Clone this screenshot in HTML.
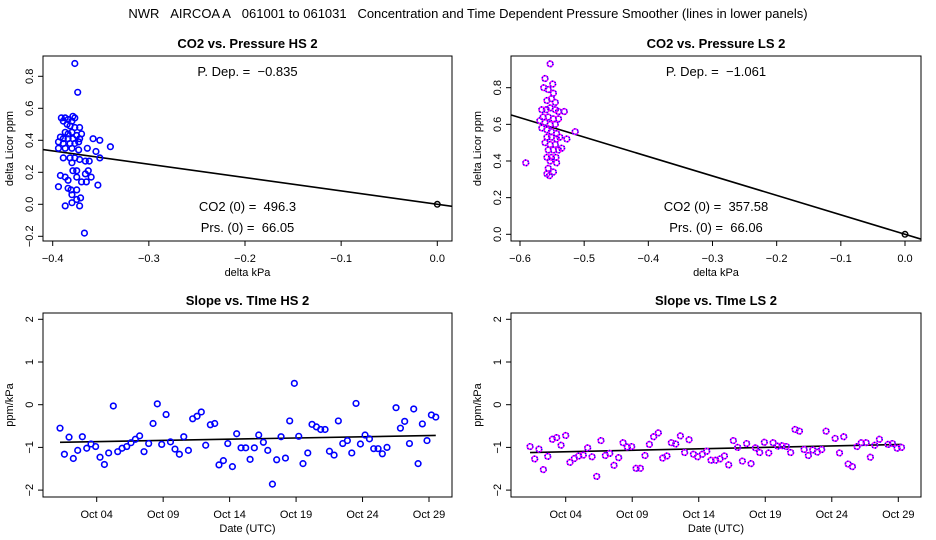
<!DOCTYPE html>
<html><head><meta charset="utf-8"><style>
body{margin:0;background:#fff}
svg{display:block;font-family:"Liberation Sans",sans-serif}
</style></head><body>
<svg id="c" width="936" height="540" viewBox="0 0 936 540"></svg>
<script>
// ---- data ----
const hsPrsX=[-0.377,-0.374,-0.379,-0.377,-0.391,-0.387,-0.384,-0.380,-0.389,-0.385,-0.382,-0.377,-0.372,-0.387,-0.384,-0.380,-0.375,-0.392,-0.389,-0.384,-0.379,-0.372,-0.370,-0.394,-0.389,-0.382,-0.377,-0.373,-0.394,-0.387,-0.380,-0.373,-0.364,-0.358,-0.351,-0.340,-0.355,-0.351,-0.389,-0.382,-0.377,-0.372,-0.366,-0.362,-0.380,-0.379,-0.375,-0.363,-0.392,-0.387,-0.384,-0.375,-0.366,-0.360,-0.370,-0.365,-0.394,-0.384,-0.381,-0.375,-0.353,-0.380,-0.371,-0.375,-0.380,-0.387,-0.372,-0.367];
const hsCo2Y=[0.88,0.70,0.55,0.54,0.54,0.54,0.53,0.52,0.52,0.50,0.49,0.48,0.48,0.45,0.44,0.45,0.43,0.42,0.41,0.41,0.41,0.41,0.44,0.39,0.38,0.38,0.38,0.39,0.35,0.35,0.35,0.34,0.35,0.41,0.40,0.36,0.33,0.29,0.29,0.29,0.29,0.28,0.27,0.27,0.26,0.21,0.21,0.21,0.18,0.17,0.15,0.17,0.19,0.17,0.14,0.14,0.11,0.10,0.09,0.09,0.12,0.06,0.04,0.03,0.01,-0.01,-0.01,-0.18];
const hsSlope=-0.835;
const lsPrsX=[-0.553,-0.561,-0.549,-0.563,-0.556,-0.548,-0.551,-0.558,-0.545,-0.566,-0.559,-0.553,-0.545,-0.531,-0.540,-0.564,-0.556,-0.548,-0.540,-0.569,-0.561,-0.553,-0.545,-0.566,-0.558,-0.551,-0.543,-0.514,-0.558,-0.551,-0.543,-0.561,-0.553,-0.545,-0.527,-0.538,-0.556,-0.548,-0.540,-0.558,-0.551,-0.535,-0.553,-0.544,-0.543,-0.591,-0.556,-0.558,-0.548,-0.554];
const lsCo2Y=[0.93,0.85,0.82,0.80,0.79,0.77,0.74,0.73,0.72,0.68,0.68,0.69,0.68,0.67,0.67,0.64,0.64,0.63,0.63,0.62,0.61,0.60,0.60,0.58,0.57,0.56,0.55,0.56,0.53,0.53,0.52,0.50,0.49,0.49,0.52,0.53,0.46,0.46,0.46,0.42,0.42,0.47,0.40,0.42,0.39,0.39,0.36,0.33,0.34,0.32];
const lsSlope=-1.061;
const hsDays=[1.24,1.57,1.92,2.24,2.57,2.92,3.25,3.57,3.92,4.25,4.58,4.90,5.25,5.58,5.91,6.26,6.58,6.91,7.23,7.56,7.91,8.24,8.56,8.89,9.22,9.55,9.89,10.22,10.55,10.90,11.22,11.55,11.87,12.20,12.55,12.88,13.20,13.53,13.86,14.21,14.53,14.86,15.21,15.54,15.86,16.19,16.54,16.87,17.22,17.54,17.87,18.20,18.52,18.87,19.20,19.52,19.88,20.20,20.53,20.85,21.18,21.51,21.86,22.18,22.51,22.86,23.19,23.51,23.84,24.19,24.52,24.84,25.17,25.49,25.84,26.52,26.85,27.17,27.53,27.85,28.18,28.50,28.85,29.18,29.51];
const hsSlopes=[-0.55,-1.16,-0.76,-1.26,-1.07,-0.75,-1.02,-0.92,-0.98,-1.23,-1.40,-1.13,-0.03,-1.10,-1.02,-0.98,-0.89,-0.81,-0.73,-1.10,-0.91,-0.44,0.02,-0.93,-0.23,-0.87,-1.04,-1.16,-0.75,-1.07,-0.33,-0.27,-0.17,-0.95,-0.47,-0.44,-1.41,-1.31,-0.91,-1.45,-0.68,-1.01,-1.01,-1.28,-1.01,-0.71,-0.88,-1.07,-1.86,-1.29,-0.75,-1.25,-0.38,0.50,-0.74,-1.38,-1.13,-0.46,-0.52,-0.58,-0.58,-1.09,-1.18,-0.38,-0.91,-0.84,-1.13,0.03,-0.92,-0.71,-0.80,-1.03,-1.03,-1.15,-1.00,-0.07,-0.55,-0.39,-0.91,-0.10,-1.38,-0.45,-0.84,-0.24,-0.29];
const hsTrendDays=[1.24,29.51];
const hsTrendVals=[-0.88,-0.72];
const lsDays=[1.32,1.67,1.99,2.32,2.65,3.00,3.32,3.65,4.00,4.32,4.65,4.98,5.32,5.65,5.98,6.33,6.65,6.98,7.31,7.63,7.98,8.31,8.63,8.96,9.29,9.61,9.96,10.29,10.61,10.96,11.29,11.61,11.94,12.27,12.62,12.94,13.27,13.60,13.92,14.27,14.60,14.92,15.27,15.60,15.93,16.25,16.60,16.93,17.28,17.60,17.93,18.26,18.58,18.93,19.26,19.59,19.94,20.26,20.59,20.91,21.24,21.57,21.92,22.24,22.57,22.92,23.24,23.57,24.25,24.58,24.90,25.23,25.55,25.90,26.22,26.58,26.90,27.23,27.58,28.23,28.56,28.91,29.24];
const lsSlopes=[-0.98,-1.27,-1.04,-1.52,-1.21,-0.81,-0.77,-0.95,-0.72,-1.35,-1.26,-1.20,-1.18,-1.01,-1.22,-1.68,-0.84,-1.19,-1.14,-1.42,-1.24,-0.89,-0.99,-0.98,-1.49,-1.49,-1.19,-0.93,-0.75,-0.66,-1.25,-1.20,-0.89,-0.92,-0.73,-1.12,-0.82,-1.16,-1.22,-1.16,-1.09,-1.30,-1.30,-1.27,-1.20,-1.41,-0.84,-1.00,-1.32,-0.91,-1.38,-1.01,-1.12,-0.88,-1.13,-0.89,-0.97,-0.96,-0.98,-1.12,-0.58,-0.62,-1.05,-1.19,-1.06,-1.11,-1.05,-0.62,-0.79,-1.13,-0.75,-1.39,-1.45,-0.98,-0.89,-0.89,-1.23,-0.95,-0.81,-0.93,-0.91,-1.02,-1.00];
const lsTrendDays=[1.32,29.24];
const lsTrendVals=[-1.12,-0.93];
const topXTicksHS=[-0.4,-0.3,-0.2,-0.1,0.0];
const topYTicksHS=[-0.2,0.0,0.2,0.4,0.6,0.8];
const topXTicksLS=[-0.6,-0.5,-0.4,-0.3,-0.2,-0.1,0.0];
const topYTicksLS=[0.0,0.2,0.4,0.6,0.8];
const slopeYTicks=[-2,-1,0,1,2];
const dateTickDays=[4,9,14,19,24,29];
const dateTickLabels=["Oct 04","Oct 09","Oct 14","Oct 19","Oct 24","Oct 29"];

const NS="http://www.w3.org/2000/svg";
const svg=document.getElementById('c');
function mk(tag,attrs,parent,text){const e=document.createElementNS(NS,tag);for(const k in attrs)e.setAttribute(k,attrs[k]);if(text!==undefined)e.textContent=text;(parent||svg).appendChild(e);return e;}
function fmt(v,d){const s=v.toFixed(d);return s.replace('-','\u2212');}
const NB='\u00a0';

function panel(o){
  const g=mk('g',{});
  
  
  const sx=v=>o.px0+(v-o.vx0)*(o.px1-o.px0)/(o.vx1-o.vx0);
  const sy=v=>o.py0+(v-o.vy0)*(o.py1-o.py0)/(o.vy1-o.vy0);
  const box=mk('rect',{x:o.L,y:o.T,width:o.R-o.L,height:o.B-o.T,fill:'none',stroke:'#000','stroke-width':1},g);
  
  const t=mk('text',{x:(o.L+o.R)/2,y:o.T-8,'text-anchor':'middle','font-size':13,'font-weight':'bold'},g,o.title);
  
  o.xt.forEach((v,i)=>{const x=sx(v);mk('line',{x1:x,x2:x,y1:o.B,y2:o.B+5,stroke:'#000'},g);
    const l=mk('text',{x:x,y:o.B+21,'text-anchor':'middle','font-size':11},g,o.xl?o.xl[i]:fmt(v,1));
    });
  o.yt.forEach(v=>{const y=sy(v);mk('line',{x1:o.L-5,x2:o.L,y1:y,y2:y,stroke:'#000'},g);
    const l=mk('text',{x:0,y:0,'text-anchor':'middle','font-size':11,transform:`translate(${o.L-10},${y}) rotate(-90)`},g,o.yd===0?fmt(v,0):fmt(v,1));
    });
  const xt=mk('text',{x:(o.L+o.R)/2,y:o.B+35,'text-anchor':'middle','font-size':11},g,o.xtitle);
  
  const yt=mk('text',{x:0,y:0,'text-anchor':'middle','font-size':11,transform:`translate(${o.L-30},${(o.T+o.B)/2}) rotate(-90)`},g,o.ytitle);
  
  const clip='clip'+o.name;const cp=mk('clipPath',{id:clip},g);mk('rect',{x:o.L,y:o.T,width:o.R-o.L,height:o.B-o.T},cp);
  const pg=mk('g',{'clip-path':`url(#${clip})`},g);
  const ln=mk('line',{x1:sx(o.lx[0]),y1:sy(o.ly[0]),x2:sx(o.lx[1]),y2:sy(o.ly[1]),stroke:'#000','stroke-width':1.6},pg);
  
  o.xs.forEach((v,i)=>{
    const c=mk('circle',{cx:sx(v),cy:sy(o.ys[i]),r:2.8,fill:'none',stroke:o.col,'stroke-width':1.6},pg);
    
    if(o.dash){mk('circle',{cx:sx(v),cy:sy(o.ys[i]),r:2.8,fill:'none',stroke:'#0000ff','stroke-width':1.6,'stroke-dasharray':'1 2'},pg);}
  });
  if(o.origin){const c=mk('circle',{cx:sx(0),cy:sy(0),r:2.8,fill:'none',stroke:'#000','stroke-width':1.4},pg);
    }
  if(o.notes){o.notes.forEach(n=>{const e=mk('text',{x:(o.L+o.R)/2,y:n[1],'text-anchor':'middle','font-size':13},g,n[0]);
    });}
}

const tt=mk('text',{x:468,y:18,'text-anchor':'middle','font-size':13},svg,
  "NWR"+NB+NB+NB+"AIRCOA A"+NB+NB+NB+"061001 to 061031"+NB+NB+NB+"Concentration and Time Dependent Pressure Smoother (lines in lower panels)");



panel({name:'co2-vs-pressure-hs',title:'CO2 vs. Pressure HS 2',L:43,R:452,T:56,B:241,
  px0:52.7,px1:437.3,vx0:-0.4,vx1:0,py0:204.3,py1:76.3,vy0:0,vy1:0.8,
  xt:topXTicksHS,yt:topYTicksHS,xtitle:'delta kPa',ytitle:'delta Licor ppm',
  xs:hsPrsX,ys:hsCo2Y,col:'#0000ff',lx:[-0.45,0.05],ly:[-0.45*hsSlope,0.05*hsSlope],origin:true,
  notes:[['P. Dep. ='+NB+NB+fmt(hsSlope,3),76],['CO2 (0) ='+NB+NB+'496.3',211],['Prs. (0) ='+NB+NB+'66.05',232]]});
panel({name:'co2-vs-pressure-ls',title:'CO2 vs. Pressure LS 2',L:511,R:921,T:56,B:241,
  px0:520,px1:905,vx0:-0.6,vx1:0,py0:234.3,py1:87.7,vy0:0,vy1:0.8,
  xt:topXTicksLS,yt:topYTicksLS,xtitle:'delta kPa',ytitle:'delta Licor ppm',
  xs:lsPrsX,ys:lsCo2Y,col:'#ff00ff',dash:true,lx:[-0.65,0.05],ly:[-0.65*lsSlope,0.05*lsSlope],origin:true,
  notes:[['P. Dep. ='+NB+NB+fmt(lsSlope,3),76],['CO2 (0) ='+NB+NB+'357.58',211],['Prs. (0) ='+NB+NB+'66.06',232]]});
panel({name:'slope-vs-time-hs',title:'Slope vs. TIme HS 2',L:43,R:452,T:313,B:497,
  px0:96.7,px1:429,vx0:4,vx1:29,py0:404.7,py1:319.3,vy0:0,vy1:2,
  xt:dateTickDays,xl:dateTickLabels,yt:slopeYTicks,yd:0,xtitle:'Date (UTC)',ytitle:'ppm/kPa',
  xs:hsDays,ys:hsSlopes,col:'#0000ff',lx:hsTrendDays,ly:hsTrendVals});
panel({name:'slope-vs-time-ls',title:'Slope vs. TIme LS 2',L:511,R:921,T:313,B:497,
  px0:565.7,px1:898.3,vx0:4,vx1:29,py0:404.7,py1:319.3,vy0:0,vy1:2,
  xt:dateTickDays,xl:dateTickLabels,yt:slopeYTicks,yd:0,xtitle:'Date (UTC)',ytitle:'ppm/kPa',
  xs:lsDays,ys:lsSlopes,col:'#ff00ff',dash:true,lx:lsTrendDays,ly:lsTrendVals});
</script>
</body></html>
